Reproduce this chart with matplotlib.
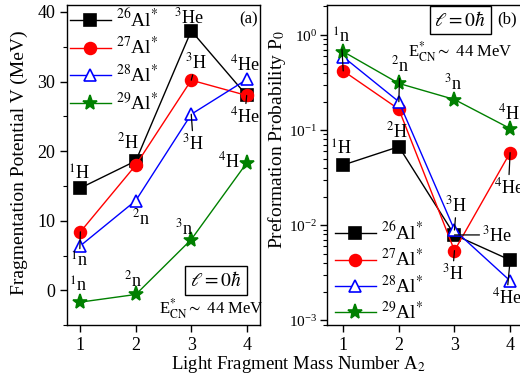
import matplotlib
matplotlib.use("Agg")
import matplotlib.pyplot as plt
from matplotlib.ticker import MultipleLocator, LogLocator, NullFormatter

plt.rcParams['font.family'] = ['Liberation Serif', 'DejaVu Serif']
plt.rcParams['mathtext.fontset'] = 'stix'
plt.rc('font', size=13)
plt.rc('xtick', labelsize=13, direction='out')
plt.rc('ytick', labelsize=13, direction='out')

# data
A2 = [1, 2, 3, 4]
systems = [r"$^{26}$Al$^{*}$", r"$^{27}$Al$^{*}$", r"$^{28}$Al$^{*}$", r"$^{29}$Al$^{*}$"]
V_26 = [14.7, 18.6, 37.3, 28.0]
V_27 = [8.4, 18.0, 30.2, 28.0]
V_28 = [6.4, 12.9, 25.3, 30.3]
V_29 = [-1.7, -0.6, 7.3, 18.3]
P0_26 = [0.043, 0.067, 0.0079, 0.0043]
P0_27 = [0.42, 0.166, 0.0054, 0.058]
P0_28 = [0.59, 0.199, 0.0089, 0.0026]
P0_29 = [0.67, 0.31, 0.21, 0.104]

styles = [dict(color='black', marker='s', ms=8, mfc='black'),
          dict(color='red', marker='o', ms=8.5, mfc='red'),
          dict(color='blue', marker='^', ms=9, mfc='white'),
          dict(color='green', marker='*', ms=11, mfc='green')]


def lab(ax, x, y, text, dx, dy, line=False, ha='center', va='center', size=13):
    props = dict(arrowstyle='-', lw=0.9, color='black', shrinkA=0, shrinkB=0) if line else None
    ax.annotate(text, xy=(x, y), xytext=(dx, dy), textcoords='offset points',
                ha=ha, va=va, fontsize=size, arrowprops=props)


fig = plt.figure(figsize=(5.2, 3.87), dpi=100)
ax1 = fig.add_axes([0.129, 0.160, 0.371, 0.827])
ax2 = fig.add_axes([0.629, 0.160, 0.383, 0.827])

for ys, st, name in zip([V_26, V_27, V_28, V_29], styles, systems):
    ax1.plot(A2, ys, lw=1, mew=1.2, label=name, **st)
for ys, st, name in zip([P0_26, P0_27, P0_28, P0_29], styles, systems):
    ax2.plot(A2, ys, lw=1, mew=1.2, label=name, **st)

# panel (a)
ax1.set_xlim(0.76, 4.24)
ax1.set_ylim(-5, 41)
ax1.yaxis.set_major_locator(MultipleLocator(10))
ax1.yaxis.set_minor_locator(MultipleLocator(5))
ax1.set_xticks(A2)

lab(ax1, A2[0], V_26[0], r"$^{1}$H", -1, 10)
lab(ax1, A2[1], V_26[1], r"$^{2}$H", -6, 13)
lab(ax1, A2[2], V_26[2], r"$^{3}$He", -1.5, 9.5)
lab(ax1, A2[2], V_27[2], r"$^{3}$H", 3.5, 13, line=True)
lab(ax1, A2[2], V_28[2], r"$^{3}$H", 1.5, -21, line=True)
lab(ax1, A2[3], V_28[3], r"$^{4}$He", -1.5, 11)
lab(ax1, A2[3], V_27[3], r"$^{4}$He", -1.5, -15, line=True)
lab(ax1, A2[3], V_29[3], r"$^{4}$H", -5, 1, ha='right')
lab(ax1, A2[0], V_27[0], r"$^{1}$n", -0.7, -21, line=True)
lab(ax1, A2[1], V_28[1], r"$^{2}$n", 3.6, -13)
lab(ax1, A2[2], V_29[2], r"$^{3}$n", -5, 8)
lab(ax1, A2[0], V_29[0], r"$^{1}$n", -1.4, 11.5)
lab(ax1, A2[1], V_29[1], r"$^{2}$n", -2, 10)

ax1.text(0.772, 0.14, r"$\ell = 0\hbar$", transform=ax1.transAxes, ha='center', va='center',
         fontsize=14, bbox=dict(boxstyle='square,pad=0.25', fc='white', ec='black', lw=1))
ax1.text(0.745, 0.05, r"E$^{*}_{\rm CN}\sim$ 44 MeV", transform=ax1.transAxes,
         ha='center', va='center', fontsize=12)
ax1.text(0.94, 0.955, "(a)", transform=ax1.transAxes, ha='center', va='center', fontsize=12)
ax1.legend(loc='upper left', frameon=False, fontsize=14, handlelength=2.1,
           labelspacing=0.3, borderaxespad=0.05, borderpad=0.1, handletextpad=0.25)

# panel (b)
ax2.set_yscale('log')
ax2.set_xlim(0.71, 4.29)
ax2.set_ylim(8.9e-4, 2.07)
ax2.set_xticks(A2)
ax2.yaxis.set_major_locator(LogLocator(base=10, numticks=10))
ax2.yaxis.set_minor_locator(LogLocator(base=10, subs=range(2, 10), numticks=10))
ax2.yaxis.set_minor_formatter(NullFormatter())
ax2.tick_params(axis='y', labelsize=11, pad=2)

lab(ax2, A2[0], P0_27[0], r"$^{1}$n", -1.4, 24.5, line=True)
lab(ax2, A2[1], P0_28[1], r"$^{2}$n", 0.7, 26, line=True)
lab(ax2, A2[2], P0_29[2], r"$^{3}$n", -0.7, 11.5)
lab(ax2, A2[3], P0_29[3], r"$^{4}$H", -0.7, 11)
lab(ax2, A2[0], P0_26[0], r"$^{1}$H", -1.4, 11)
lab(ax2, A2[1], P0_26[1], r"$^{2}$H", -1.4, 11)
lab(ax2, A2[3], P0_27[3], r"$^{4}$He", -1.2, -25, line=True)
lab(ax2, A2[2], P0_28[2], r"$^{3}$H", 1.4, 18, line=True)
lab(ax2, A2[2], P0_26[2], r"$^{3}$He", 20, 0, line=True, ha='left')
lab(ax2, A2[2], P0_27[2], r"$^{3}$H", -1.4, -16.5, line=True)
lab(ax2, A2[3], P0_26[3], r"$^{4}$He", -2.5, -27, line=True)

ax2.text(0.668, 0.953, r"$\ell = 0\hbar$", transform=ax2.transAxes, ha='center', va='center',
         fontsize=14, bbox=dict(boxstyle='square,pad=0.25', fc='white', ec='black', lw=1))
ax2.text(0.405, 0.855, r"E$^{*}_{\rm CN}\sim$ 44 MeV", transform=ax2.transAxes,
         ha='left', va='center', fontsize=12)
ax2.text(0.905, 0.955, "(b)", transform=ax2.transAxes, ha='center', va='center', fontsize=12)
ax2.legend(loc='lower left', frameon=False, fontsize=14, handlelength=2.1,
           labelspacing=0.22, borderaxespad=0.0, borderpad=0.1, handletextpad=0.25,
           bbox_to_anchor=(0.03, 0.0))

for ax in (ax1, ax2):
    for s in ax.spines.values():
        s.set_linewidth(1.0)
    ax.tick_params(which='major', length=5, width=1, top=False, right=False)
    ax.tick_params(which='minor', length=3, width=0.8, top=False, right=False)

fig.text(0.038, 0.58, "Fragmentation Potential V (MeV)", rotation=90, ha='center', va='center', fontsize=14)
fig.text(0.532, 0.64, r"Preformation Probability P$_{0}$", rotation=90, ha='center', va='center', fontsize=14)
fig.text(0.573, 0.057, r"Light Fragment Mass Number A$_{2}$", ha='center', va='center', fontsize=13.5)

fig.savefig("out.png", dpi=100)
